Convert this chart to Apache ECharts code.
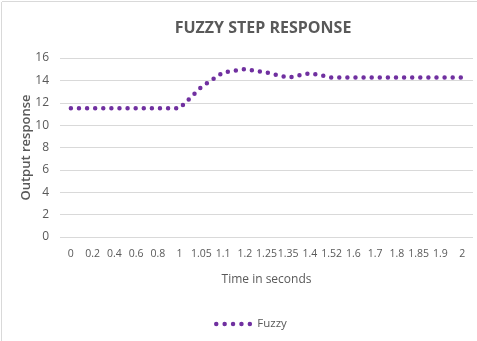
<!DOCTYPE html>
<html>
<head>
<meta charset="utf-8">
<script src="https://cdn.jsdelivr.net/npm/echarts@6/dist/echarts.min.js"></script>
<style>
html,body{margin:0;padding:0;background:#fff;}
#tu_1{width:477px;height:341px;}
</style>
</head>
<body>
<div id="tu_1"></div>
<script>
var times=['0','0.2','0.4','0.6','0.8','1','1.05','1.1','1.2','1.25','1.35','1.4','1.52','1.6','1.7','1.8','1.85','1.9','2'];//时间
var fuzzy=[11.5,11.5,11.5,11.5,11.5,11.5,13.4,14.7,15.0,14.7,14.25,14.65,14.25,14.25,14.25,14.25,14.25,14.25,14.25];
var yTicks={min:0,max:16,step:2};

var fontName="'Open Sans', sans-serif";
var myChart_1=echarts.init(document.getElementById('tu_1'));
var option={
	title:{
		text:'FUZZY STEP RESPONSE',
		left:258,
		textAlign:'center',
		top:15,
		textStyle:{color:'#595959',fontWeight:'bold',fontSize:16,fontFamily:fontName}
	},
	legend:{
		data:['Fuzzy'],
		left:209,
		top:313,
		itemWidth:38,
		itemHeight:14,
		itemGap:4,
		itemStyle:{opacity:0},
		lineStyle:{color:'#7030A0',width:4.5,type:[0,8.4],cap:'round'},
		textStyle:{color:'#595959',fontSize:11.5,fontFamily:fontName,padding:[0,0,0,-2]}
	},
	grid:{left:60,right:4,top:58,bottom:104},
	graphic:[
		{type:'line',shape:{x1:2,y1:1.5,x2:477,y2:1.5},style:{stroke:'#d9d9d9',lineWidth:1}},
		{type:'line',shape:{x1:1.5,y1:2,x2:1.5,y2:341},style:{stroke:'#d9d9d9',lineWidth:1}}
	],
	xAxis:{
		type:'category',
		data:times,
		boundaryGap:true,
		name:'Time in seconds',
		nameLocation:'middle',
		nameGap:37,
		nameTextStyle:{color:'#595959',fontSize:12,fontFamily:fontName},
		axisLine:{show:false},
		axisTick:{show:false},
		axisLabel:{interval:0,color:'#595959',fontSize:10.5,margin:12,fontFamily:fontName}
	},
	yAxis:{
		type:'value',
		min:yTicks.min,
		max:yTicks.max,
		interval:yTicks.step,
		name:'Output response',
		nameLocation:'middle',
		nameGap:27,
		nameMoveOverlap:false,
		nameTextStyle:{color:'#595959',fontSize:13,fontWeight:600,fontFamily:fontName},
		axisLine:{show:false},
		axisTick:{show:false},
		axisLabel:{color:'#595959',fontSize:12,margin:11,fontFamily:fontName},
		splitLine:{lineStyle:{color:'#d9d9d9',width:1}}
	},
	series:[{
		name:'Fuzzy',
		type:'line',
		symbol:'none',
		data:fuzzy,
		itemStyle:{color:'#7030A0'},
		lineStyle:{color:'#7030A0',width:4.5,type:[0,8.1],cap:'round'}
	}]
};
myChart_1.setOption(option);
</script>
</body>
</html>
